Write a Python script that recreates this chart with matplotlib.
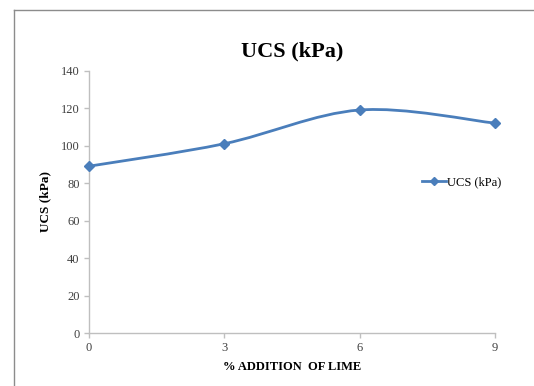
import numpy as np
import matplotlib
matplotlib.use("Agg")
from matplotlib import pyplot as plt
from matplotlib.path import Path
from matplotlib.patches import PathPatch
from matplotlib.lines import Line2D

# datos
lime_pct = [0, 3, 6, 9]
ucs_kpa = [89, 101, 119, 112]
serie = "UCS (kPa)"

plt.rcParams['font.family'] = ['Liberation Serif', 'DejaVu Serif']
color = "#4A7EBB"

fig = plt.figure(figsize=(5.34, 3.86), dpi=100)
ax = fig.add_axes([0.166, 0.137, 0.761, 0.680])

# linea suavizada estilo Excel (bezier con los mismos puntos)
pts = np.column_stack([lime_pct, ucs_kpa]).astype(float)
ext = np.vstack([pts[0], pts, pts[-1]])
verts = [pts[0]]
codes = [Path.MOVETO]
for i in range(len(pts) - 1):
    p0, p1, p2, p3 = ext[i], ext[i + 1], ext[i + 2], ext[i + 3]
    verts += [p1 + (p2 - p0) / 6, p2 - (p3 - p1) / 6, p2]
    codes += [Path.CURVE4] * 3
ax.add_patch(PathPatch(Path(verts, codes), fill=False, edgecolor=color, lw=2.0, zorder=2))
ax.plot(lime_pct, ucs_kpa, linestyle="none", marker="D", markersize=5.5,
        color=color, zorder=3, clip_on=False)

ax.set_xlim(0, 9)
ax.set_ylim(0, 140)
ax.set_xticks(lime_pct)
ax.set_yticks(range(0, 141, 20))
for s in ["top", "right"]:
    ax.spines[s].set_visible(False)
for s in ["left", "bottom"]:
    ax.spines[s].set_color("#BFBFBF")
    ax.spines[s].set_linewidth(1)
ax.tick_params(axis="both", colors="#BFBFBF", labelcolor="#404040",
               labelsize=9, length=3.5, width=1, direction="out")
ax.tick_params(axis="x", pad=3)
ax.tick_params(axis="y", pad=3)

ax.set_title("UCS (kPa)", fontsize=16, fontweight="bold", pad=10)
ax.set_xlabel("% ADDITION  OF LIME", fontsize=9, fontweight="bold", labelpad=5)
ax.set_ylabel("UCS (kPa)", fontsize=9.5, fontweight="bold", labelpad=7)

h = Line2D([], [], color=color, lw=2.0, marker="D", markersize=4)
fig.legend([h], [serie], loc="center left", bbox_to_anchor=(0.791, 0.527),
           frameon=False, fontsize=9, handlelength=1.9, handletextpad=0.05,
           borderpad=0, borderaxespad=0)

# marco del area del grafico
fig.add_artist(Line2D([14 / 534, 1], [1 - 10 / 386, 1 - 10 / 386], color="#8C8C8C", lw=1))
fig.add_artist(Line2D([14 / 534, 14 / 534], [0, 1 - 10 / 386], color="#8C8C8C", lw=1))

fig.savefig("out.png", dpi=100)
